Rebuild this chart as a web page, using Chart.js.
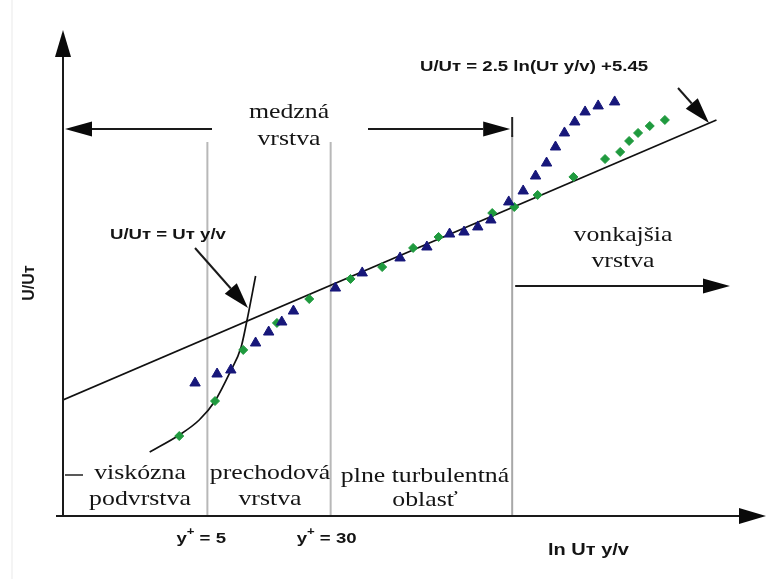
<!DOCTYPE html>
<html>
<head>
<meta charset="utf-8">
<script src="https://cdn.jsdelivr.net/npm/chart.js@4.4.0/dist/chart.umd.min.js"></script>
<style>
  body { margin: 0; background: #fff; }
  #wrap { width: 773px; height: 579px; }
</style>
</head>
<body>
<div id="wrap"><canvas id="myChart" width="773" height="579"></canvas></div>
<script>
// x = ln(y+), y = U/Uт
const xRange = [-0.49, 9.73]
const yRange = [-5.61, 35.6]

// region boundaries: y+ = 5, y+ = 30, outer layer
const regionX = [1.609, 3.401, 6.04]
const tickLabels = ['5', '30']

const logLawX = [-0.49, 9.01]
const logLawY = [4.23, 27.97]

const viscousX = [0.77, 1.20, 1.49, 1.72, 1.94, 2.10, 2.18, 2.31]
const viscousY = [-0.18, 1.26, 2.53, 4.14, 6.60, 8.72, 10.84, 14.74]

const blueX = [1.43, 1.75, 1.95, 2.31, 2.50, 2.69, 2.86, 3.47, 3.86, 4.41, 4.80, 5.13, 5.34,
  5.54, 5.73, 5.99, 6.20, 6.38, 6.54, 6.67, 6.80, 6.95, 7.10, 7.29, 7.53]
const blueY = [5.67, 6.43, 6.77, 9.06, 9.99, 10.84, 11.77, 13.72, 15.00, 16.27, 17.20, 18.30, 18.47,
  18.90, 19.49, 21.02, 21.95, 23.22, 24.32, 25.68, 26.87, 27.80, 28.65, 29.16, 29.50]

const greenX = [1.20, 1.72, 2.13, 2.62, 3.09, 3.69, 4.15, 4.60, 4.97, 5.75, 6.07, 6.41, 6.93,
  7.39, 7.61, 7.74, 7.87, 8.04, 8.26]
const greenY = [1.17, 4.14, 8.47, 10.76, 12.79, 14.49, 15.50, 17.12, 18.05, 20.08, 20.59, 21.61, 23.14,
  24.66, 25.26, 26.19, 26.87, 27.46, 27.97]

const pts = (xs, ys) => xs.map((x, i) => ({ x: x, y: ys[i] }))

const SANS = '"Liberation Sans", Arial, sans-serif'
const SERIF = '"Liberation Serif", "Times New Roman", serif'

function txt(ctx, s, x, y, font, align, sx) {
  ctx.save()
  ctx.font = font
  ctx.textAlign = align || 'left'
  ctx.textBaseline = 'middle'
  ctx.fillStyle = '#141414'
  ctx.translate(x, y)
  ctx.scale(sx || 1.2, 1)
  ctx.fillText(s, 0, 0)
  ctx.restore()
}

function arrow(ctx, x1, y1, x2, y2, head, half, width) {
  const a = Math.atan2(y2 - y1, x2 - x1)
  const bx = x2 - Math.cos(a) * head, by = y2 - Math.sin(a) * head
  ctx.save()
  ctx.strokeStyle = '#1a1a1a'
  ctx.fillStyle = '#0a0a0a'
  ctx.lineWidth = width || 2
  ctx.beginPath()
  ctx.moveTo(x1, y1)
  ctx.lineTo(bx, by)
  ctx.stroke()
  ctx.beginPath()
  ctx.moveTo(x2, y2)
  ctx.lineTo(bx + Math.sin(a) * half, by - Math.cos(a) * half)
  ctx.lineTo(bx - Math.sin(a) * half, by + Math.cos(a) * half)
  ctx.closePath()
  ctx.fill()
  ctx.restore()
}

function line(ctx, x1, y1, x2, y2, color, w) {
  ctx.save()
  ctx.strokeStyle = color
  ctx.lineWidth = w
  ctx.beginPath()
  ctx.moveTo(x1, y1)
  ctx.lineTo(x2, y2)
  ctx.stroke()
  ctx.restore()
}

const sketch = {
  id: 'sketch',
  beforeDraw(chart) {
    const ctx = chart.ctx
    ctx.save()
    ctx.fillStyle = '#fff'
    ctx.fillRect(0, 0, chart.width, chart.height)
    ctx.restore()
    line(ctx, 12, 0, 12, chart.height, '#f0f0f0', 1.5)
  },
  beforeDatasetsDraw(chart) {
    const ctx = chart.ctx
    const xs = chart.scales.x, a = chart.chartArea
    // region boundaries
    line(ctx, xs.getPixelForValue(regionX[0]), 142, xs.getPixelForValue(regionX[0]), a.bottom, '#b8b8b8', 2)
    line(ctx, xs.getPixelForValue(regionX[1]), 142, xs.getPixelForValue(regionX[1]), a.bottom, '#b8b8b8', 2)
    line(ctx, xs.getPixelForValue(regionX[2]), 135, xs.getPixelForValue(regionX[2]), a.bottom, '#a8a8a8', 2)
    line(ctx, xs.getPixelForValue(regionX[2]), 117, xs.getPixelForValue(regionX[2]), 137, '#222', 2)
  },
  afterDatasetsDraw(chart) {
    const ctx = chart.ctx
    const xs = chart.scales.x, a = chart.chartArea
    // axes
    arrow(ctx, a.left, a.bottom + 1, a.left, a.top, 27, 8, 2)
    arrow(ctx, a.left - 7, a.bottom, a.right, a.bottom, 27, 8, 2)

    // boundary layer arrows
    const bx = xs.getPixelForValue(regionX[2])
    arrow(ctx, 212, 129, a.left + 2, 129, 27, 7.5, 2)
    arrow(ctx, 368, 129, bx - 2, 129, 27, 7.5, 2)
    arrow(ctx, bx + 3, 286, 730, 286, 27, 7.5, 2)
    line(ctx, a.left + 2, 475, a.left + 20, 475, '#222', 1.5)

    // pointers to the two laws
    arrow(ctx, 195, 248, 248, 308, 26, 8, 2)
    arrow(ctx, 678, 88, 709, 123, 26, 8, 2)

    // labels
    txt(ctx, 'U/Uт = 2.5 ln(Uт y/v) +5.45', 420, 67, 'bold 15.5px ' + SANS)
    txt(ctx, 'U/Uт = Uт y/v', 110, 235, 'bold 15.5px ' + SANS)
    txt(ctx, 'ln Uт y/v', 548, 551, 'bold 16px ' + SANS, 'left', 1.25)

    txt(ctx, 'medzná', 289, 112, '21.5px ' + SERIF, 'center')
    txt(ctx, 'vrstva', 289, 139, '21.5px ' + SERIF, 'center')
    txt(ctx, 'vonkajšia', 623, 235, '21.5px ' + SERIF, 'center')
    txt(ctx, 'vrstva', 623, 261, '21.5px ' + SERIF, 'center')
    txt(ctx, 'viskózna', 140, 473, '21.5px ' + SERIF, 'center')
    txt(ctx, 'podvrstva', 140, 499, '21.5px ' + SERIF, 'center')
    txt(ctx, 'prechodová', 270, 473, '21.5px ' + SERIF, 'center')
    txt(ctx, 'vrstva', 270, 499, '21.5px ' + SERIF, 'center')
    txt(ctx, 'plne turbulentná', 425, 476, '21.5px ' + SERIF, 'center')
    txt(ctx, 'oblasť', 425, 500, '21.5px ' + SERIF, 'center')

    // y+ tick labels under the region lines
    tickLabels.forEach((t, i) => {
      const cx = xs.getPixelForValue(regionX[i])
      let x = cx - (i === 0 ? 31 : 34)
      ctx.font = 'bold 15.5px ' + SANS
      const wy = ctx.measureText('y').width * 1.2
      txt(ctx, 'y', x, 539, 'bold 15.5px ' + SANS)
      txt(ctx, '+', x + wy, 532, 'bold 11px ' + SANS)
      ctx.font = 'bold 11px ' + SANS
      const wp = ctx.measureText('+').width * 1.2
      txt(ctx, ' = ' + t, x + wy + wp, 539, 'bold 15.5px ' + SANS)
    })

    // y axis title
    ctx.save()
    ctx.translate(30, 283)
    ctx.rotate(-Math.PI / 2)
    ctx.font = 'bold 16px ' + SANS
    ctx.textAlign = 'center'
    ctx.textBaseline = 'middle'
    ctx.fillStyle = '#161616'
    ctx.fillText('U/Uт', 0, 0)
    ctx.restore()
  }
}

const data = {
  datasets: [{
    type: 'scatter',
    label: 'meranie 1',
    data: pts(blueX, blueY),
    pointStyle: 'triangle',
    pointRadius: 6,
    backgroundColor: '#17177a',
    borderColor: '#17177a',
    borderWidth: 1,
    order: 0
  }, {
    type: 'scatter',
    label: 'meranie 2',
    data: pts(greenX, greenY),
    pointStyle: 'rectRot',
    pointRadius: 4.5,
    backgroundColor: '#1f9a3e',
    borderColor: '#1f9a3e',
    borderWidth: 1,
    order: 0
  }, {
    type: 'line',
    label: 'log law',
    data: pts(logLawX, logLawY),
    borderColor: '#111',
    borderWidth: 1.7,
    pointRadius: 0,
    fill: false,
    order: 1
  }, {
    type: 'line',
    label: 'viscous',
    data: pts(viscousX, viscousY),
    borderColor: '#111',
    borderWidth: 1.7,
    pointRadius: 0,
    cubicInterpolationMode: 'monotone',
    fill: false,
    order: 1
  }]
}

const config = {
  type: 'scatter',
  data: data,
  options: {
    responsive: false,
    animation: false,
    devicePixelRatio: 1,
    layout: { padding: { left: 63, top: 30, right: 3, bottom: 63 } },
    plugins: { legend: { display: false }, tooltip: { enabled: false } },
    scales: {
      x: { type: 'linear', min: xRange[0], max: xRange[1], display: false },
      y: { type: 'linear', min: yRange[0], max: yRange[1], display: false }
    }
  },
  plugins: [sketch]
}

const myChart = new Chart(document.getElementById('myChart'), config)
</script>
</body>
</html>
